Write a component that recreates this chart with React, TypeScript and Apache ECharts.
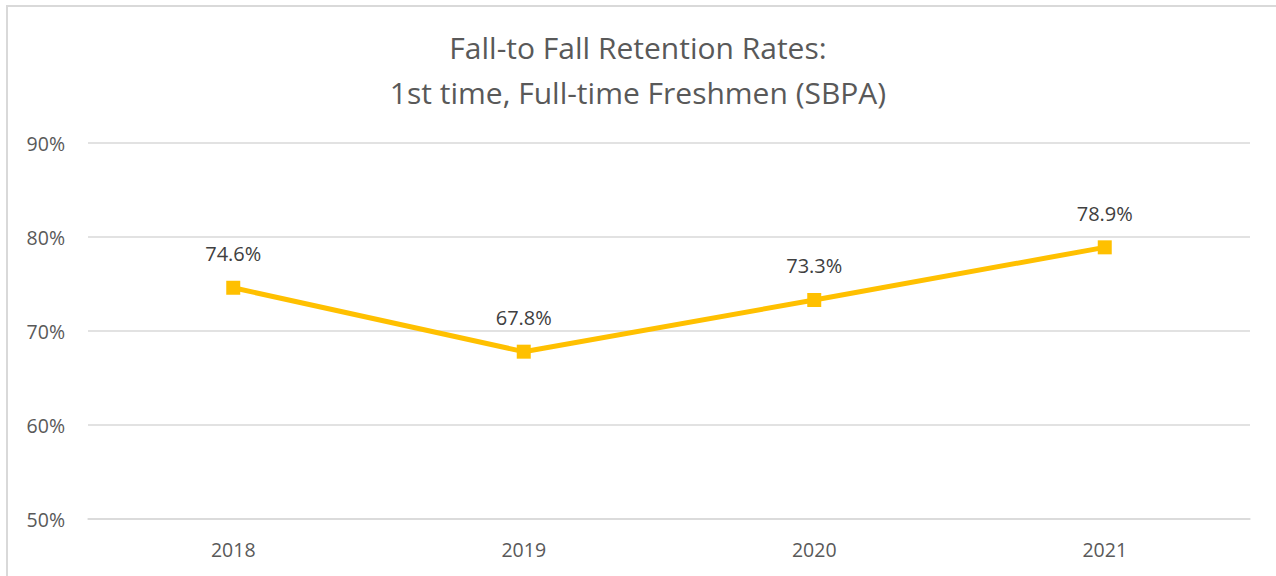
import React, { useEffect, useRef } from "react";
import * as echarts from "echarts";

const categories = ["2018", "2019", "2020", "2021"];
const retention = [74.6, 67.8, 73.3, 78.9];
const yTicks = { min: 50, max: 90, interval: 10 };
const titleLines = ["Fall-to Fall Retention Rates:", "1st time, Full-time Freshmen (SBPA)"];

const FONT = "'Open Sans', 'Noto Sans', sans-serif";

export default function App() {
  const ref = useRef<HTMLDivElement>(null);
  useEffect(() => {
    document.body.style.margin = "0";
    const chart = echarts.init(ref.current!, null, { renderer: "svg" });
    chart.setOption({
      animation: false,
      backgroundColor: "#ffffff",
      title: {
        text: titleLines.join("\n"),
        left: "center",
        top: 20,
        textStyle: {
          fontFamily: FONT,
          fontSize: 30,
          fontWeight: "normal",
          color: "#595959",
          lineHeight: 45,
        },
      },
      graphic: [
        {
          type: "rect",
          shape: { x: 7, y: 6, width: 1320, height: 620 },
          style: { fill: "none", stroke: "#d9d9d9", lineWidth: 2 },
          silent: true,
        },
      ],
      grid: { left: 88, right: 26, top: 143, bottom: 57 },
      xAxis: {
        type: "category",
        data: categories,
        boundaryGap: true,
        axisLine: { show: true, lineStyle: { color: "#d9d9d9", width: 1.5 } },
        axisTick: { show: false },
        axisLabel: {
          fontFamily: FONT,
          fontSize: 19.5,
          color: "#595959",
          margin: 20,
        },
      },
      yAxis: {
        type: "value",
        min: yTicks.min,
        max: yTicks.max,
        interval: yTicks.interval,
        axisLine: { show: false },
        axisTick: { show: false },
        splitLine: { lineStyle: { color: "#d9d9d9", width: 1.5 } },
        axisLabel: {
          formatter: "{value}%",
          fontFamily: FONT,
          fontSize: 19.5,
          color: "#595959",
          margin: 23,
        },
      },
      series: [
        {
          type: "line",
          data: retention,
          symbol: "rect",
          symbolSize: 14,
          lineStyle: { color: "#FFC000", width: 5 },
          itemStyle: { color: "#FFC000" },
          label: {
            show: true,
            position: "top",
            distance: 17,
            formatter: (p: any) => `${p.value.toFixed(1)}%`,
            fontFamily: FONT,
            fontSize: 20,
            color: "#404040",
          },
        },
      ],
    });
    return () => chart.dispose();
  }, []);
  return <div ref={ref} style={{ width: 1276, height: 576 }} />;
}
